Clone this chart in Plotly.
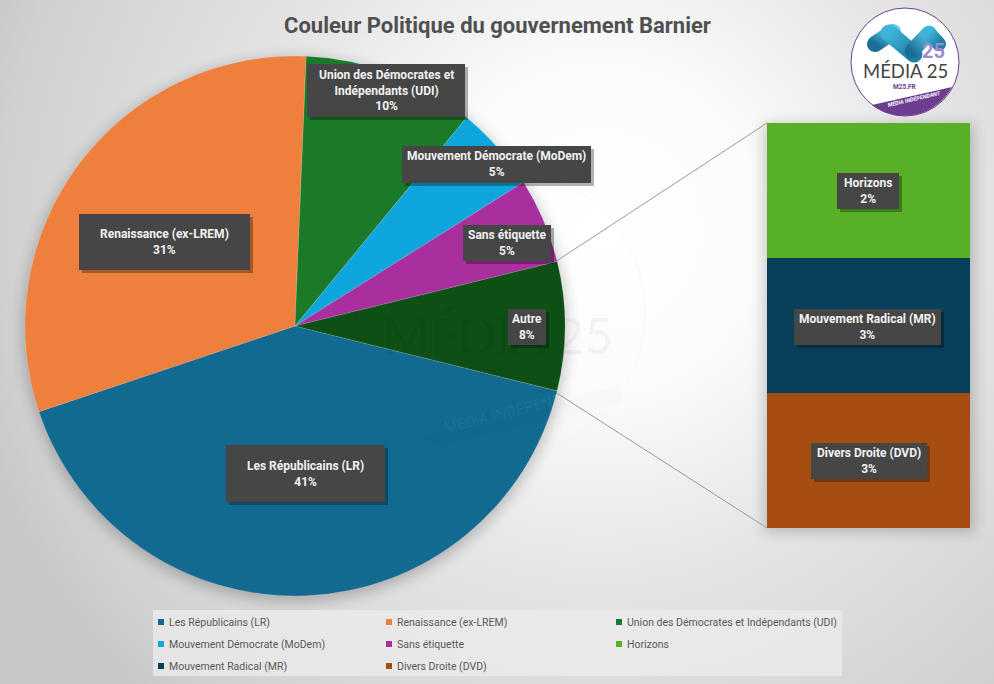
import base64
import plotly.graph_objects as go

W, H = 994, 684

# donnees
pie_labels = ["Les Républicains (LR)", "Renaissance (ex-LREM)", "Union des Démocrates et Indépendants (UDI)",
              "Mouvement Démocrate (MoDem)", "Sans étiquette", "Autre"]
pie_values = [41.0, 30.8, 10.3, 5.1, 5.1, 7.7]
pie_pct = ["41%", "31%", "10%", "5%", "5%", "8%"]
bar_labels = ["Horizons", "Mouvement Radical (MR)", "Divers Droite (DVD)"]
bar_values = [2.6, 2.6, 2.6]
bar_pct = ["2%", "3%", "3%"]
legend_labels = ["Les Républicains (LR)", "Renaissance (ex-LREM)", "Union des Démocrates et Indépendants (UDI)",
                 "Mouvement Démocrate (MoDem)", "Sans étiquette", "Horizons",
                 "Mouvement Radical (MR)", "Divers Droite (DVD)"]

pie_colors = ["#136A90", "#EF7F3C", "#1A7A27", "#0FA5DD", "#A92F9F", "#0E4F15"]
bar_colors = ["#58B027", "#083F5A", "#A64E12"]
legend_colors = pie_colors[:5] + bar_colors

FONT = "Roboto"


def fx(px):
    return px / W


def fy(py):
    return 1 - py / H


# fond : degrade radial, ombres et dessin du logo
bg_svg = f"""<svg xmlns="http://www.w3.org/2000/svg" width="{W}" height="{H}" viewBox="0 0 {W} {H}">
<defs>
<radialGradient id="g" gradientUnits="userSpaceOnUse" cx="600" cy="230" r="650">
<stop offset="0" stop-color="#ffffff"/><stop offset="0.25" stop-color="#fbfbfb"/>
<stop offset="0.55" stop-color="#e4e4e4"/><stop offset="0.92" stop-color="#d0d0d0"/>
<stop offset="1" stop-color="#c8c8c8"/>
</radialGradient>
<filter id="b" x="-20%" y="-20%" width="140%" height="140%"><feGaussianBlur stdDeviation="7"/></filter>
<linearGradient id="l1" x1="0" y1="0" x2="1" y2="1"><stop offset="0" stop-color="#3fb4d8"/><stop offset="1" stop-color="#1d7fa6"/></linearGradient>
<linearGradient id="l2" x1="0" y1="1" x2="1" y2="0"><stop offset="0" stop-color="#1b6f97"/><stop offset="1" stop-color="#58cbe2"/></linearGradient>
</defs>
<rect width="{W}" height="{H}" fill="url(#g)"/>
<circle cx="295" cy="330" r="272" fill="#000000" opacity="0.22" filter="url(#b)"/>
<rect x="764" y="124" width="210" height="408" fill="#000000" opacity="0.20" filter="url(#b)"/>
<circle cx="905" cy="62" r="54" fill="#ffffff" stroke="#6d3d8f" stroke-width="1"/>
<path d="M872 105 L952 87 A54 54 0 0 1 872 105 Z" fill="#6d3d8f"/>
<g fill="none" stroke-linecap="round">
<line x1="875" y1="44" x2="893" y2="32" stroke="url(#l2)" stroke-width="16"/>
<line x1="889" y1="33" x2="914" y2="54" stroke="url(#l1)" stroke-width="17"/>
<line x1="912" y1="51" x2="929" y2="33" stroke="url(#l2)" stroke-width="15"/>
<line x1="929" y1="33" x2="939" y2="44" stroke="url(#l1)" stroke-width="14"/>
</g>
</svg>"""
bg_uri = "data:image/svg+xml;base64," + base64.b64encode(bg_svg.encode("utf-8")).decode()

fig = go.Figure()

fig.add_trace(go.Pie(
    labels=pie_labels,
    values=pie_values,
    sort=False,
    direction="clockwise",
    rotation=103.9,
    textinfo="none",
    showlegend=False,
    marker=dict(colors=pie_colors, line=dict(color="rgba(255,255,255,0.3)", width=0.5)),
    domain=dict(x=[fx(25), fx(565)], y=[fy(596), fy(56)]),
))

for name, val, col in zip(bar_labels, bar_values, bar_colors):
    fig.add_trace(go.Bar(x=[0], y=[val], name=name, width=1, marker=dict(color=col, line=dict(width=0)),
                         showlegend=False))

shapes = []
annotations = []


def rect(x0, y0, x1, y1, fill):
    shapes.append(dict(type="rect", xref="paper", yref="paper", x0=fx(x0), x1=fx(x1), y0=fy(y0), y1=fy(y1),
                       fillcolor=fill, line=dict(width=0), layer="above"))


def text(x, y, s, size, color, family=FONT, angle=0, xanchor="center"):
    annotations.append(dict(xref="paper", yref="paper", x=fx(x), y=fy(y), text=s, showarrow=False, textangle=angle,
                            xanchor=xanchor, yanchor="middle", font=dict(family=family, size=size, color=color)))


# filigrane
shapes.append(dict(type="circle", xref="paper", yref="paper", x0=fx(355), x1=fx(645), y0=fy(458), y1=fy(168),
                   line=dict(color="rgba(0,0,0,0.02)", width=1), fillcolor="rgba(0,0,0,0)", layer="above"))
shapes.append(dict(type="path", xref="paper", yref="paper", layer="above",
                   path=f"M {fx(420)} {fy(437)} L {fx(620)} {fy(385)} L {fx(622)} {fy(402)} L {fx(440)} {fy(446)} Z",
                   fillcolor="rgba(0,0,0,0.012)", line=dict(width=0)))
text(498, 335, "MÉDIA 25", 50, "rgba(0,0,0,0.04)", family="Lato")
text(497, 371, "M25.FR", 14, "rgba(0,0,0,0.04)")
text(517, 410, "MÉDIA INDÉPENDANT", 15, "rgba(255,255,255,0.06)", angle=-14)

# traits de liaison
for x0, y0, x1, y1 in [(555, 262, 767, 123), (552, 390, 767, 528)]:
    shapes.append(dict(type="line", xref="paper", yref="paper", x0=fx(x0), y0=fy(y0), x1=fx(x1), y1=fy(y1),
                       line=dict(color="#9a9a9a", width=1), layer="below"))

# etiquettes : x0, y0, x1, y1 dans l'ordre des series
pie_boxes = [(226, 445, 385, 502), (79, 214, 250, 270), (307, 64, 465, 117),
             (402, 146, 591, 183), (463, 225, 551, 261), (508, 309, 546, 345)]
bar_boxes = [(837, 173, 899, 209), (794, 309, 941, 345), (811, 443, 927, 479)]
pie_names = ["Les Républicains (LR)", "Renaissance (ex-LREM)", "Union des Démocrates et<br>Indépendants (UDI)",
             "Mouvement Démocrate (MoDem)", "Sans étiquette", "Autre"]

for box, name, pct in zip(pie_boxes + bar_boxes, pie_names + bar_labels, pie_pct + bar_pct):
    x0, y0, x1, y1 = box
    rect(x0 + 3, y0 + 3, x1 + 3, y1 + 3, "rgba(0,0,0,0.3)")
    rect(x0, y0, x1, y1, "#464646")
    text((x0 + x1) / 2, (y0 + y1) / 2, f"<b>{name}<br>{pct}</b>", 12, "#F2F2F2")

# titre
text(497, 26, "<b>Couleur Politique du gouvernement Barnier</b>", 22, "#505050")

# legende
rect(153, 610, 842, 676, "rgba(236,236,236,0.75)")
col_x = [158, 386, 616]
row_y = [622, 644, 666]
for i, (name, col) in enumerate(zip(legend_labels, legend_colors)):
    x = col_x[i % 3]
    y = row_y[i // 3]
    rect(x, y - 3, x + 6, y + 3, col)
    text(x + 9, y, name, 10.5, "#595959", xanchor="left")

# logo
text(933, 51, "<b>25</b>", 20, "#9C8CCB")
text(905, 71, "MÉDIA 25", 18.5, "#444444", family="Lato")
text(905, 87, "<b>M25.FR</b>", 6.5, "#6d3d8f")
text(914, 99, "<b><i>MÉDIA INDÉPENDANT</i></b>", 5.5, "#FFFFFF", angle=-13)

fig.update_layout(
    width=W,
    height=H,
    autosize=False,
    margin=dict(l=0, r=0, t=0, b=0),
    paper_bgcolor="#e0e0e0",
    plot_bgcolor="rgba(0,0,0,0)",
    barmode="stack",
    xaxis=dict(domain=[fx(767), fx(970)], range=[-0.5, 0.5], visible=False, fixedrange=True),
    yaxis=dict(domain=[fy(528), fy(123)], range=[sum(bar_values), 0], visible=False, fixedrange=True),
    images=[dict(source=bg_uri, xref="paper", yref="paper", x=0, y=1, sizex=1, sizey=1, sizing="stretch",
                 xanchor="left", yanchor="top", layer="below")],
    shapes=shapes,
    annotations=annotations,
)

fig.write_html("out.html", config=dict(displayModeBar=False), post_script="document.body.style.margin='0';")
